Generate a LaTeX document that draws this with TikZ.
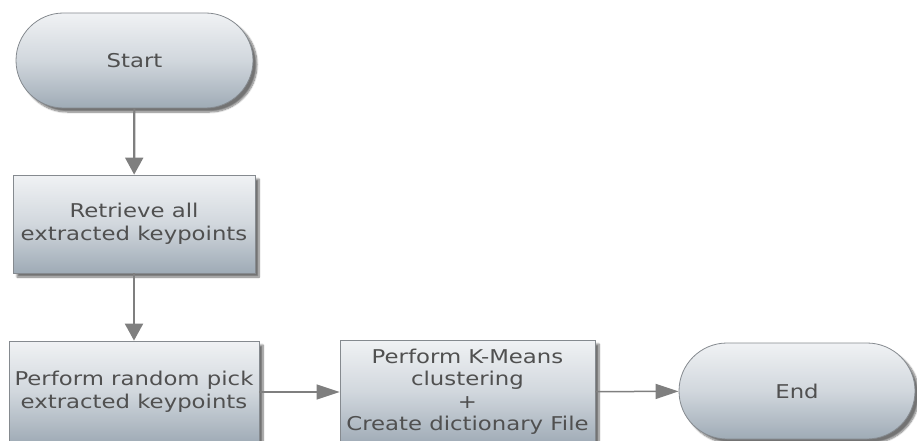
\documentclass[tikz,border=0pt]{standalone}
\usepackage{fontspec}
\newfontfamily\flowfont[FakeStretch=1.2]{DejaVu Sans}
\usetikzlibrary{shapes.misc,arrows.meta,shadows.blur}

\definecolor{boxtop}{HTML}{F0F2F4}
\definecolor{boxmid}{HTML}{D1D7DD}
\definecolor{boxbot}{HTML}{9FABB6}
\definecolor{boxedge}{HTML}{858A8F}
\definecolor{flowtext}{HTML}{505050}
\definecolor{flowline}{HTML}{7F7F7F}

\tikzset{
  flowbase/.style={draw=boxedge, line width=0.8pt,
    top color=boxtop, bottom color=boxbot, middle color=boxmid,
    text=flowtext, align=center, inner sep=2pt,
    font=\flowfont\fontsize{19}{22.5}\selectfont,
    blur shadow={shadow xshift=4pt, shadow yshift=-4pt,
      shadow blur steps=8, shadow opacity=55}},
  terminal/.style={flowbase, rounded rectangle},
  process/.style={flowbase, rectangle},
  vlink/.style={draw=flowline, line width=2.2pt,
    -{Triangle[length=17pt,width=18pt]}},
  hlink/.style={draw=flowline, line width=1.5pt,
    -{Triangle[length=23pt,width=15pt]}}
}

\begin{document}
\begin{tikzpicture}[x=1pt,y=-1pt]
  \useasboundingbox (0,0) rectangle (917,441);

  % terminals and process steps
  \node[terminal, minimum width=241pt, minimum height=95pt] (start) at (134.5,60.5) {Start};
  \node[process, minimum width=242pt, minimum height=98pt] (retrieve) at (134,224)
    {Retrieve all\\extracted keypoints};
  \node[process, minimum width=250pt, minimum height=102pt] (pick) at (134,392)
    {Perform random pick\\extracted keypoints};
  \node[process, minimum width=255pt, minimum height=104pt] (kmeans) at (467.5,392)
    {Perform K-Means\\clustering\\+\\Create dictionary File};
  \node[terminal, minimum width=240pt, minimum height=96pt] (end) at (797,391) {End};

  % connectors
  \draw[vlink] (start) -- (retrieve);
  \draw[vlink] (retrieve) -- (pick);
  \draw[hlink] (pick) -- (kmeans);
  \draw[hlink] (kmeans) -- (end);
\end{tikzpicture}
\end{document}
